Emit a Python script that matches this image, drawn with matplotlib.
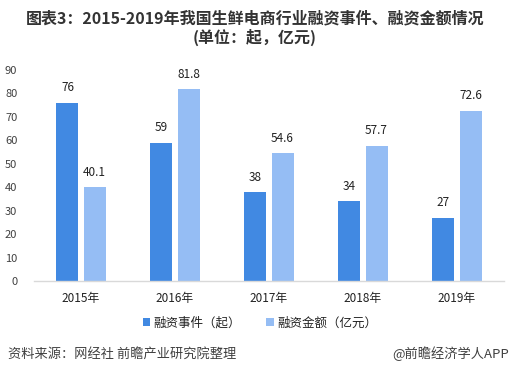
import matplotlib
matplotlib.use("Agg")
import matplotlib.pyplot as plt
import numpy as np

plt.rcParams['font.family'] = ['Noto Sans CJK SC', 'DejaVu Sans']

categories = ["2015年", "2016年", "2017年", "2018年", "2019年"]
events = [76, 59, 38, 34, 27]
amounts = [40.1, 81.8, 54.6, 57.7, 72.6]
event_labels = ["76", "59", "38", "34", "27"]
amount_labels = ["40.1", "81.8", "54.6", "57.7", "72.6"]
yticks = [0, 10, 20, 30, 40, 50, 60, 70, 80, 90]

c_dark = "#4189E2"
c_light = "#95BDF4"
txt = "#404040"

fig = plt.figure(figsize=(5.10, 3.76), dpi=100)
ax = fig.add_axes([34/510, 1-281/376, (504-34)/510, (281-70)/376])

x = np.arange(len(categories))
w = 0.234
off = 0.144
b1 = ax.bar(x - off, events, w, color=c_dark, label="融资事件（起）")
b2 = ax.bar(x + off, amounts, w, color=c_light, label="融资金额（亿元）")

for xi, v, s in zip(x, events, event_labels):
    ax.annotate(s, (xi - off, v), xytext=(0, 6), textcoords="offset points",
                ha="center", va="bottom", fontsize=8.5, color="#222222")
for xi, v, s in zip(x, amounts, amount_labels):
    ax.annotate(s, (xi + off, v), xytext=(0, 6), textcoords="offset points",
                ha="center", va="bottom", fontsize=8.5, color="#222222")

ax.set_xlim(-0.5, len(categories) - 0.5)
ax.set_ylim(0, 90)
ax.set_yticks(yticks)
ax.set_yticklabels([str(t) for t in yticks], fontsize=8, color=txt)
ax.set_xticks(x)
ax.set_xticklabels(categories, fontsize=8.5, color="#222222")
ax.tick_params(axis="both", length=0)
ax.tick_params(axis="y", pad=12)
ax.tick_params(axis="x", pad=8)
for s in ["top", "right", "left"]:
    ax.spines[s].set_visible(False)
ax.spines["bottom"].set_color("#D9D9D9")
ax.spines["bottom"].set_linewidth(1)

fig.legend(handles=[b1, b2], loc="center", bbox_to_anchor=(0.51, 1-323/376),
           ncol=2, frameon=False, fontsize=9, handlelength=0.6, handleheight=0.6,
           handletextpad=0.3, columnspacing=2.0, labelcolor="#222222")

fig.text(0.5, 1-18/376, "图表3：2015-2019年我国生鲜电商行业融资事件、融资金额情况",
         ha="center", va="center", fontsize=11.5, fontweight="bold", color="#333333")
fig.text(0.5, 1-37/376, "(单位：起，亿元)",
         ha="center", va="center", fontsize=11.5, fontweight="bold", color="#333333")

fig.text(8/510, 1-354/376, "资料来源：网经社 前瞻产业研究院整理", ha="left", va="center",
         fontsize=9.5, color=txt)
fig.text(509/510, 1-354/376, "@前瞻经济学人APP", ha="right", va="center",
         fontsize=9.5, color=txt)

fig.savefig("out.png", dpi=100)
